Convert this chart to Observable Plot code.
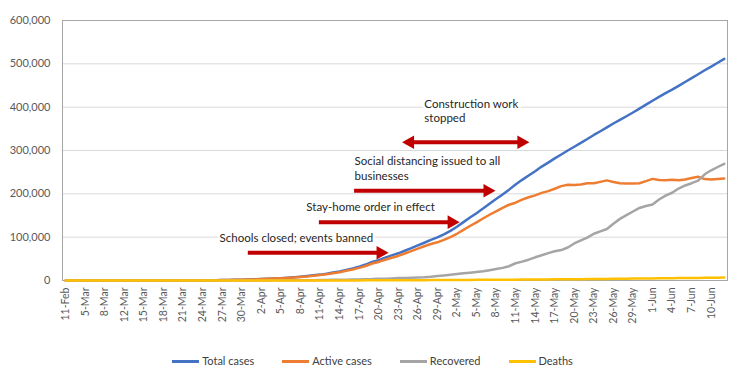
<!DOCTYPE html>
<html>
<head>
<meta charset="utf-8">
<script src="https://cdn.jsdelivr.net/npm/d3@7"></script>
<script src="https://cdn.jsdelivr.net/npm/@observablehq/plot@0.6"></script>
<style>
  body { margin: 0; background: #fff; }
  #legend { display: flex; justify-content: center; gap: 28px; padding-top: 18px; margin-left: 12px;
    font-family: Lato, "Open Sans", sans-serif; font-size: 11px; color: #404040; line-height: 16px; }
  #legend span.item { display: flex; align-items: center; }
  #legend span.sw { display: inline-block; width: 27px; height: 3px; margin-right: 3px; }
</style>
</head>
<body>
<div id="chart"></div>
<div id="legend"></div>
<script>
const dates = ["11-Feb","3-Mar","4-Mar","5-Mar","6-Mar","7-Mar","8-Mar","10-Mar","11-Mar",
"12-Mar","13-Mar","14-Mar","15-Mar","16-Mar","17-Mar","18-Mar","19-Mar","20-Mar","21-Mar","22-Mar","23-Mar","24-Mar","25-Mar","26-Mar","27-Mar","28-Mar","29-Mar","30-Mar","31-Mar",
"1-Apr","2-Apr","3-Apr","4-Apr","5-Apr","6-Apr","7-Apr","8-Apr","9-Apr","10-Apr","11-Apr","12-Apr","13-Apr","14-Apr","15-Apr","16-Apr","17-Apr","18-Apr","19-Apr","20-Apr","21-Apr","22-Apr","23-Apr","24-Apr","25-Apr","26-Apr","27-Apr","28-Apr","29-Apr","30-Apr",
"1-May","2-May","3-May","4-May","5-May","6-May","7-May","8-May","9-May","10-May","11-May","12-May","13-May","14-May","15-May","16-May","17-May","18-May","19-May","20-May","21-May","22-May","23-May","24-May","25-May","26-May","27-May","28-May","29-May","30-May","31-May",
"1-Jun","2-Jun","3-Jun","4-Jun","5-Jun","6-Jun","7-Jun","8-Jun","9-Jun","10-Jun","11-Jun","12-Jun"];

const totalCases = [2,3,3,4,10,14,17,20,28,
34,45,59,63,93,114,147,199,253,306,367,438,495,658,840,1036,1264,1534,1836,2337,
2777,3548,4149,4731,5389,6343,7497,8672,10131,11917,13584,15770,18328,21102,24490,27938,32008,36793,42853,47121,52763,57999,62773,68622,74588,80949,87147,93558,99399,106498,
114431,124054,134687,145268,155370,165929,177160,187859,198676,209688,221344,232243,242271,252245,262843,272043,281752,290678,299941,308705,317554,326448,335882,344481,353427,362342,370680,379051,387623,396575,405843,
414878,423741,432277,440538,449256,458102,467073,476043,485253,493657,502436,511423];

const activeCases = [2,1,1,2,7,11,14,17,25,
31,42,56,58,88,109,139,190,243,296,350,415,472,627,799,987,1196,1459,1739,2199,
2563,3283,3834,4355,4989,5890,6945,8029,9357,11028,12433,14349,16710,19238,22306,25402,29145,33423,39201,42843,47986,52595,56707,62272,67657,73435,79007,84235,88141,93806,
100042,107819,116768,125817,134054,143065,151732,159528,167704,174797,179534,186615,192056,196410,202199,206340,211748,217747,220974,220341,221774,224374,224558,227641,230996,227406,224504,223916,223992,224551,229267,
234509,231719,231105,232686,231499,233056,236663,239384,234000,232975,234000,235338];

const recovered = [0,2,2,2,3,3,3,3,3,
3,3,3,5,5,5,8,8,9,9,16,22,22,29,38,45,64,67,88,121,
190,235,281,333,355,406,494,580,698,795,1045,1291,1470,1694,1986,2304,2590,3057,3291,3873,4321,4891,5511,5735,6250,6767,7346,8456,10286,11619,
13220,15013,16639,18095,19865,21327,23803,26608,29145,32976,39801,43512,48003,53530,58226,63166,67373,70209,76130,85392,92681,98825,107936,113299,118798,131129,142208,150993,159257,167469,171883,
175514,186985,195957,202468,212237,219329,224551,230688,245119,254324,261904,269370];

const deaths = [0,0,0,0,0,0,0,0,0,
0,0,0,0,0,0,0,1,1,1,1,1,1,2,3,4,4,8,9,17,
24,30,34,43,45,47,58,63,76,94,106,130,148,170,198,232,273,313,361,405,456,513,555,615,681,747,794,867,972,1073,
1169,1222,1280,1356,1451,1537,1625,1723,1827,1915,2009,2116,2212,2305,2418,2537,2631,2722,2837,2972,3099,3249,3388,3541,3633,3807,3968,4142,4374,4555,4693,
4855,5037,5215,5384,5520,5717,5859,5971,6134,6358,6532,6715];

const seriesNames = ["Total cases","Active cases","Recovered","Deaths"];
const seriesColors = ["#4472c4","#ed7d31","#a5a5a5","#ffc000"];
const seriesValues = [totalCases, activeCases, recovered, deaths];

const yTicks = [0,100000,200000,300000,400000,500000,600000];

// annotations (x in category-index units, y in case counts)
const noteTexts = ["Schools closed; events banned","Stay-home order in effect","Social distancing issued to all\nbusinesses","Construction work\nstopped"];
const noteX = [23.6, 36.9, 44.3, 55.0];
const noteY = [100000, 170800, 259600, 393000];
const arrowStart = [28.0, 38.9, 44.3, 52.2];
const arrowEnd = [48.9, 59.8, 65.3, 70.5];
const arrowY = [64000, 134600, 207000, 319000];
const arrowBoth = [false, false, false, true];

const rows = [];
seriesNames.forEach((name, s) => {
  seriesValues[s].forEach((v, i) => rows.push({series: name, i, value: v}));
});
const notes = noteTexts.map((t, k) => ({text: t, x: noteX[k], y: noteY[k]}));
const arrows = arrowStart.map((a, k) => ({x1: a, x2: arrowEnd[k], y: arrowY[k], both: arrowBoth[k]}));

const headRight = {draw(ctx) { ctx.moveTo(4, 0); ctx.lineTo(-8, -6.8); ctx.lineTo(-8, 6.8); ctx.closePath(); }};
const headLeft = {draw(ctx) { ctx.moveTo(-4, 0); ctx.lineTo(8, -6.8); ctx.lineTo(8, 6.8); ctx.closePath(); }};
const red = "#c00000";

const chart = Plot.plot({
  width: 733,
  height: 335,
  marginTop: 20,
  marginBottom: 55,
  marginLeft: 62,
  marginRight: 6,
  style: {fontFamily: "Lato, 'Open Sans', sans-serif", fontSize: "10.5px", color: "#595959", background: "#fff"},
  x: {domain: [-0.5, dates.length - 0.5], ticks: dates.map((d, i) => i).filter(i => i % 3 === 0),
      tickFormat: i => dates[i], tickRotate: -90, tickSize: 0, tickPadding: 7, label: null},
  y: {domain: [0, 600000], ticks: yTicks, tickFormat: d3.format(","), tickSize: 0, tickPadding: 12, label: null},
  color: {domain: seriesNames, range: seriesColors},
  marks: [
    Plot.gridY(yTicks, {stroke: "#d9d9d9", strokeOpacity: 1}),
    Plot.frame({stroke: "#a6a6a6"}),
    Plot.axisX({tickRotate: -90, tickSize: 0, tickPadding: 7, ticks: dates.map((d, i) => i).filter(i => i % 3 === 0), tickFormat: i => dates[i], label: null, fill: "#595959"}),
    Plot.axisY({ticks: yTicks, tickFormat: d3.format(","), tickSize: 0, tickPadding: 12, label: null, fill: "#595959", fontSize: 11}),
    Plot.line(rows, {x: "i", y: "value", z: "series", stroke: "series", strokeWidth: 2.5, strokeLinejoin: "round"}),
    Plot.ruleY(arrows, {x1: "x1", x2: "x2", y: "y", stroke: red, strokeWidth: 4}),
    Plot.dot(arrows, {x: "x2", y: "y", symbol: headRight, fill: red, stroke: "none"}),
    Plot.dot(arrows.filter(a => a.both), {x: "x1", y: "y", symbol: headLeft, fill: red, stroke: "none"}),
    Plot.text(notes, {x: "x", y: "y", text: "text", textAnchor: "start", fill: "#262626", fontSize: 11.5, lineHeight: 1.3,
      stroke: "white", strokeWidth: 5, paintOrder: "stroke"})
  ]
});
document.getElementById("chart").appendChild(chart);

const legend = document.getElementById("legend");
seriesNames.forEach((name, s) => {
  const item = document.createElement("span");
  item.className = "item";
  const sw = document.createElement("span");
  sw.className = "sw";
  sw.style.background = seriesColors[s];
  item.appendChild(sw);
  item.appendChild(document.createTextNode(name));
  legend.appendChild(item);
});
</script>
</body>
</html>
